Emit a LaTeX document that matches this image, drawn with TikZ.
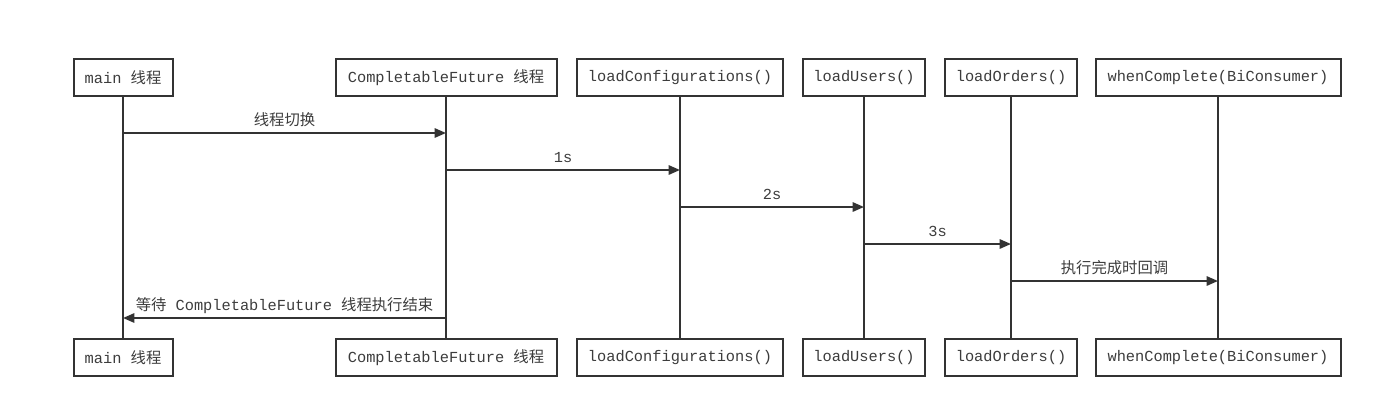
\documentclass[tikz,border=0pt]{standalone}
\usepackage{fontspec}
\setmainfont{Liberation Mono}
\newfontfamily\cjk{Noto Sans CJK SC}
\usetikzlibrary{arrows.meta}
\definecolor{ink}{HTML}{333333}
\definecolor{txt}{HTML}{3C3C3C}
\begin{document}
\begin{tikzpicture}[x=0.75pt,y=-0.75pt,
  actor/.style={draw=ink, line width=1.5pt, fill=white, minimum height=27.75pt, inner sep=0pt, text=txt, font=\fontsize{11.5}{13}\selectfont},
  life/.style={draw=ink, line width=1.4pt},
  msg/.style={draw=ink, line width=1.4pt, -{Triangle[length=8.5pt,width=7pt]}},
  lbl/.style={text=txt, font=\fontsize{11.5}{13}\selectfont, anchor=base, inner sep=0pt, yshift=6pt}]
\useasboundingbox (0,0) rectangle (1395,404);
% top actors
\node[actor, minimum width=74.25pt]  (t1) at (123,77.5) {main {\cjk 线程}};
\node[actor, minimum width=165.75pt] (t2) at (446,77.5) {CompletableFuture {\cjk 线程}};
\node[actor, minimum width=154.5pt]  (t3) at (680,77.5) {loadConfigurations()};
\node[actor, minimum width=91.5pt]   (t4) at (864,77.5) {loadUsers()};
\node[actor, minimum width=99pt]     (t5) at (1011,77.5) {loadOrders()};
\node[actor, minimum width=183.75pt] (t6) at (1218,77.5) {whenComplete(BiConsumer)};
% bottom actors
\node[actor, minimum width=74.25pt]  (b1) at (123,357.5) {main {\cjk 线程}};
\node[actor, minimum width=165.75pt] (b2) at (446,357.5) {CompletableFuture {\cjk 线程}};
\node[actor, minimum width=154.5pt]  (b3) at (680,357.5) {loadConfigurations()};
\node[actor, minimum width=91.5pt]   (b4) at (864,357.5) {loadUsers()};
\node[actor, minimum width=99pt]     (b5) at (1011,357.5) {loadOrders()};
\node[actor, minimum width=183.75pt] (b6) at (1218,357.5) {whenComplete(BiConsumer)};
% lifelines
\foreach \i in {1,...,6} { \draw[life] (t\i.south) -- (b\i.north); }
% messages
\draw[msg] (t1.south |- 0,133) -- node[lbl] {\cjk 线程切换} (t2.south |- 0,133);
\draw[msg] (t2.south |- 0,170) -- node[lbl] {1s} (t3.south |- 0,170);
\draw[msg] (t3.south |- 0,207) -- node[lbl] {2s} (t4.south |- 0,207);
\draw[msg] (t4.south |- 0,244) -- node[lbl] {3s} (t5.south |- 0,244);
\draw[msg] (t5.south |- 0,281) -- node[lbl] {\cjk 执行完成时回调} (t6.south |- 0,281);
\draw[msg] (t2.south |- 0,318) -- node[lbl] {{\cjk 等待} CompletableFuture {\cjk 线程执行结束}} (t1.south |- 0,318);
\end{tikzpicture}
\end{document}
